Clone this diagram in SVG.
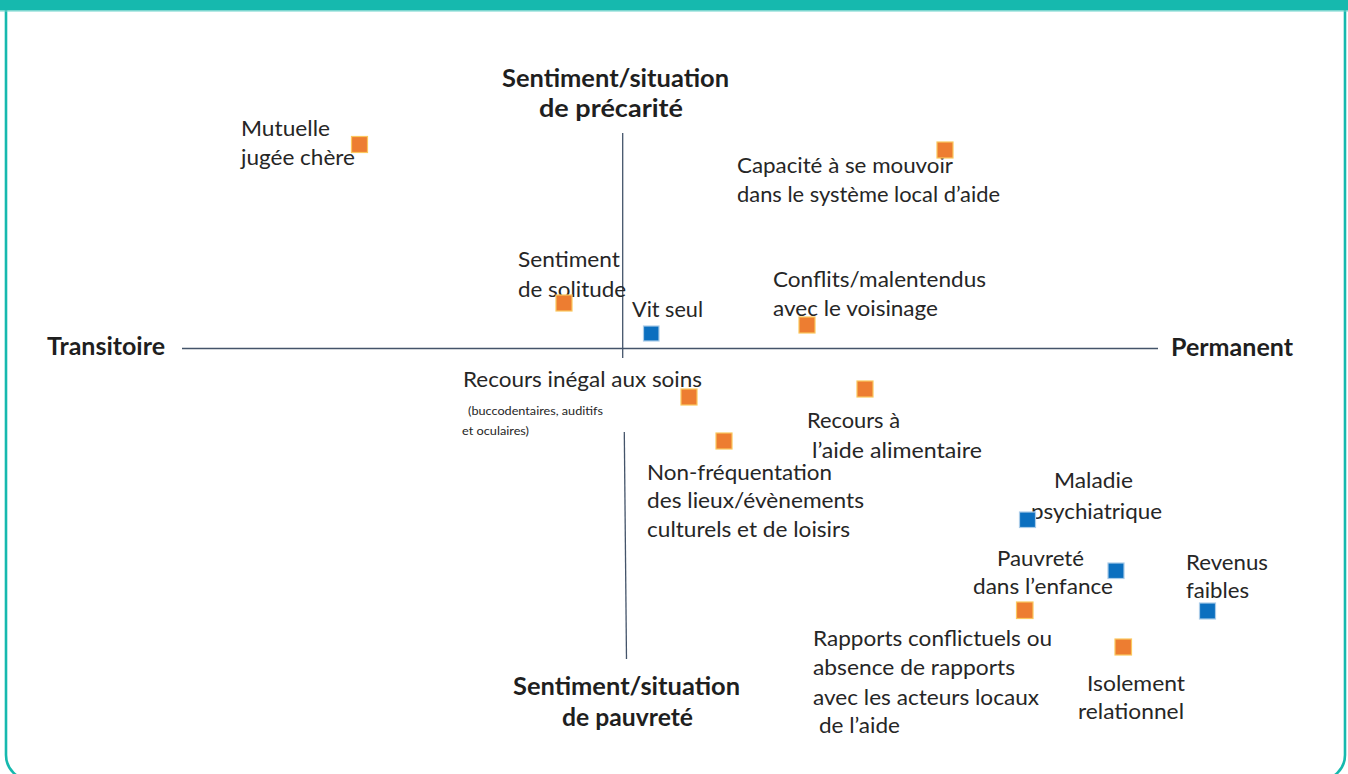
<svg xmlns="http://www.w3.org/2000/svg" width="1348" height="774" viewBox="0 0 1348 774">
<style>
.lbl{font-family:Lato,"Liberation Sans",sans-serif;font-size:22px;fill:#262626}
.sm{font-family:Lato,"Liberation Sans",sans-serif;font-size:11px;fill:#262626}
.bold{font-family:Lato,"Liberation Sans",sans-serif;font-size:24px;font-weight:bold;fill:#1f1f1f}
.axis{stroke:#44546a;stroke-width:1.3;fill:none}
.or{fill:#ed7d31;stroke:#fbc75e;stroke-width:1.2}
.bl{fill:#0b6fbf;stroke:#a9cbe8;stroke-width:1.2}
</style>
<rect x="0" y="0" width="1348" height="774" fill="#ffffff"/>
<g id="frame">
<path d="M6,0 V755 A25,25 0 0 0 31,780 H1320 A25,25 0 0 0 1345,755 V0" fill="none" stroke="#16b9ae" stroke-width="2.6"/>
<rect x="0" y="0" width="1348" height="10.5" fill="#16b9ae"/>
<line x1="0" y1="11" x2="1348" y2="11" stroke="#6fd3cb" stroke-width="1"/>
</g>
<g id="connectors">
<line class="axis" x1="182" y1="348.5" x2="1158" y2="348.5"/>
<line class="axis" x1="622.7" y1="133" x2="622.7" y2="358"/>
<line class="axis" x1="624.3" y1="432" x2="626.5" y2="659"/>
</g>
<g id="axis-labels">
<text class="bold" x="502" y="87" textLength="227" lengthAdjust="spacingAndGlyphs">Sentiment/situation</text>
<text class="bold" x="539" y="117" textLength="144" lengthAdjust="spacingAndGlyphs">de précarité</text>
<text class="bold" x="47" y="355" textLength="118" lengthAdjust="spacingAndGlyphs">Transitoire</text>
<text class="bold" x="1171" y="356" textLength="122" lengthAdjust="spacingAndGlyphs">Permanent</text>
<text class="bold" x="513" y="695" textLength="227" lengthAdjust="spacingAndGlyphs">Sentiment/situation</text>
<text class="bold" x="562" y="726" textLength="131" lengthAdjust="spacingAndGlyphs">de pauvreté</text>
</g>
<g id="mutuelle">
<text class="lbl" x="241" y="136" textLength="89" lengthAdjust="spacingAndGlyphs">Mutuelle</text>
<text class="lbl" x="241" y="165" textLength="114" lengthAdjust="spacingAndGlyphs">jugée chère</text>
<rect class="or" x="351.5" y="136.5" width="16" height="16"/>
</g>
<g id="capacite">
<text class="lbl" x="737" y="173" textLength="216" lengthAdjust="spacingAndGlyphs">Capacité à se mouvoir</text>
<text class="lbl" x="737" y="202" textLength="263" lengthAdjust="spacingAndGlyphs">dans le système local d’aide</text>
<rect class="or" x="937" y="142" width="16" height="16"/>
</g>
<g id="solitude">
<text class="lbl" x="518" y="267" textLength="102" lengthAdjust="spacingAndGlyphs">Sentiment</text>
<text class="lbl" x="518" y="297" textLength="108" lengthAdjust="spacingAndGlyphs">de solitude</text>
<rect class="or" x="556" y="295" width="16" height="16"/>
</g>
<g id="vit-seul">
<text class="lbl" x="632" y="317" textLength="71" lengthAdjust="spacingAndGlyphs">Vit seul</text>
<rect class="bl" x="643.5" y="326" width="15.5" height="15"/>
</g>
<g id="conflits">
<text class="lbl" x="773" y="287" textLength="213" lengthAdjust="spacingAndGlyphs">Conflits/malentendus</text>
<text class="lbl" x="773" y="316" textLength="165" lengthAdjust="spacingAndGlyphs">avec le voisinage</text>
<rect class="or" x="799" y="317" width="16" height="16"/>
</g>
<g id="recours-soins">
<text class="lbl" x="463" y="387" textLength="239" lengthAdjust="spacingAndGlyphs">Recours inégal aux soins</text>
<text class="sm" x="468" y="415" textLength="135" lengthAdjust="spacingAndGlyphs">(buccodentaires, auditifs</text>
<text class="sm" x="462" y="435" textLength="67" lengthAdjust="spacingAndGlyphs">et oculaires)</text>
<rect class="or" x="681" y="389" width="16" height="16"/>
</g>
<g id="aide-alimentaire">
<text class="lbl" x="807" y="428" textLength="93" lengthAdjust="spacingAndGlyphs">Recours à</text>
<text class="lbl" x="812" y="458" textLength="170" lengthAdjust="spacingAndGlyphs">l’aide alimentaire</text>
<rect class="or" x="857" y="381" width="16" height="16"/>
</g>
<g id="non-frequentation">
<text class="lbl" x="647" y="480" textLength="185" lengthAdjust="spacingAndGlyphs">Non-fréquentation</text>
<text class="lbl" x="647" y="508" textLength="217" lengthAdjust="spacingAndGlyphs">des lieux/évènements</text>
<text class="lbl" x="647" y="537" textLength="203" lengthAdjust="spacingAndGlyphs">culturels et de loisirs</text>
<rect class="or" x="716" y="433" width="16" height="16"/>
</g>
<g id="maladie">
<text class="lbl" x="1054" y="488" textLength="79" lengthAdjust="spacingAndGlyphs">Maladie</text>
<text class="lbl" x="1031" y="519" textLength="131" lengthAdjust="spacingAndGlyphs">psychiatrique</text>
<rect class="bl" x="1019.5" y="512" width="16" height="15.5"/>
</g>
<g id="pauvrete-enfance">
<text class="lbl" x="997" y="566" textLength="87" lengthAdjust="spacingAndGlyphs">Pauvreté</text>
<text class="lbl" x="973" y="594" textLength="140" lengthAdjust="spacingAndGlyphs">dans l’enfance</text>
<rect class="bl" x="1108" y="563" width="16" height="15.5"/>
</g>
<g id="revenus">
<text class="lbl" x="1186" y="570" textLength="82" lengthAdjust="spacingAndGlyphs">Revenus</text>
<text class="lbl" x="1186" y="598" textLength="63" lengthAdjust="spacingAndGlyphs">faibles</text>
<rect class="bl" x="1199.5" y="603" width="16" height="16"/>
</g>
<g id="rapports">
<text class="lbl" x="813" y="646" textLength="239" lengthAdjust="spacingAndGlyphs">Rapports conflictuels ou</text>
<text class="lbl" x="813" y="675" textLength="202" lengthAdjust="spacingAndGlyphs">absence de rapports</text>
<text class="lbl" x="813" y="705" textLength="226" lengthAdjust="spacingAndGlyphs">avec les acteurs locaux</text>
<text class="lbl" x="819" y="733" textLength="81" lengthAdjust="spacingAndGlyphs">de l’aide</text>
<rect class="or" x="1016.5" y="602" width="16.5" height="16.5"/>
</g>
<g id="isolement">
<text class="lbl" x="1087" y="691" textLength="98" lengthAdjust="spacingAndGlyphs">Isolement</text>
<text class="lbl" x="1078" y="719" textLength="106" lengthAdjust="spacingAndGlyphs">relationnel</text>
<rect class="or" x="1115" y="639" width="16.5" height="16"/>
</g>
</svg>
